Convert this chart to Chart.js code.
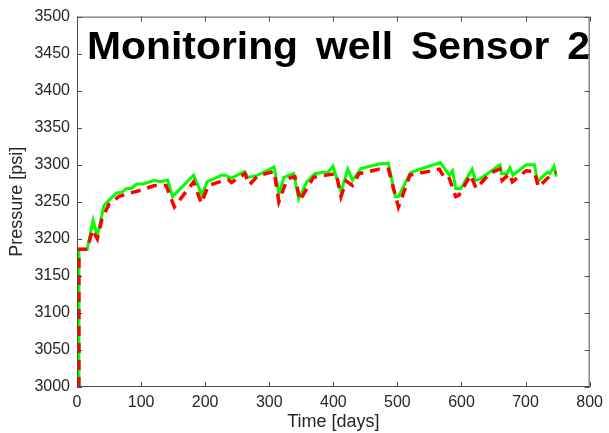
<!DOCTYPE html>
<html>
<head>
<meta charset="utf-8">
<title>Monitoring well Sensor 2</title>
<script src="https://cdn.jsdelivr.net/npm/chart.js@4.4.1/dist/chart.umd.min.js"></script>
<style>
  html, body { margin: 0; padding: 0; background: #fff; }
  #wrap { width: 609px; height: 433px; }
</style>
</head>
<body>
<div id="wrap"><canvas id="pressureChart" width="609" height="433"></canvas></div>
<script>
// Values (time in days, pressure in psi)
const chartTitle = 'Monitoring well Sensor 2';
const xTicks = [0, 100, 200, 300, 400, 500, 600, 700, 800];
const yTicks = [3000, 3050, 3100, 3150, 3200, 3250, 3300, 3350, 3400, 3450, 3500];

const greenDays = [3, 3, 16, 25, 31.7, 42, 52, 62, 70, 77.6, 85, 93, 103, 121, 129, 141.5, 149, 182, 195, 203,
  225.7, 231, 241, 261.6, 266.7, 282, 307.6, 315, 323, 338, 346, 358.6, 371, 384, 392, 399.5, 412, 422.5, 430,
  443, 471, 486, 496.6, 501.6, 519.6, 522, 567, 581, 586, 591, 599, 616.6, 621.8, 629.5, 660, 662.6, 671,
  675.4, 680.5, 700.9, 713.7, 718.8, 734, 738, 744.4, 748];
const greenPsi = [3000, 3186, 3186, 3225, 3203, 3245, 3254, 3262, 3263, 3268, 3268, 3274, 3274, 3279, 3277, 3279, 3257, 3286, 3259, 3277,
  3286, 3286, 3282, 3291, 3283, 3286, 3297, 3261, 3283, 3288, 3254, 3277, 3288, 3290, 3290, 3298, 3263, 3294, 3279,
  3295, 3301, 3302, 3257, 3257, 3288, 3290, 3303, 3286, 3292, 3268, 3268, 3294, 3279, 3281, 3300, 3288, 3288,
  3296, 3286, 3300, 3300, 3277, 3290, 3288, 3298, 3284];

const redDays = [3, 3, 16, 24, 31.7, 39, 49.5, 65, 80, 100.7, 121, 139, 152, 182, 194, 205, 225.7, 236, 241, 262,
  269, 282, 307.6, 315, 328, 340, 348, 369, 389, 404.6, 412, 420, 430, 440, 471, 486, 501.6, 519.6, 565.5, 573,
  580, 591, 596, 614, 623, 644.7, 660, 663.6, 675, 679.4, 700.9, 713.7, 720, 741.8, 748];
const redPsi = [3000, 3186, 3186, 3212, 3200, 3227, 3246, 3257, 3261, 3266, 3272, 3272, 3243, 3277, 3248, 3272, 3278, 3280, 3276, 3288,
  3273, 3285, 3291, 3250, 3281, 3284, 3252, 3283, 3286, 3288, 3257, 3278, 3272, 3288, 3294, 3294, 3243, 3286, 3294, 3283,
  3284, 3257, 3259, 3286, 3268, 3289, 3294, 3279, 3288, 3277, 3292, 3291, 3270, 3288, 3290];

const toPoints = (xs, ys) => xs.map((x, i) => ({ x: x, y: ys[i] }));

const axisColor = '#4d4d4d';
const labelColor = '#262626';
const fontFamily = '"Liberation Sans", Arial, Helvetica, sans-serif';

// MATLAB-style box with inward ticks on all four sides, plus the big title
const boxPlugin = {
  id: 'matlabBox',
  afterDraw(chart) {
    const { ctx, chartArea: a, scales } = chart;
    ctx.save();
    ctx.strokeStyle = axisColor;
    ctx.lineWidth = 1;
    ctx.strokeRect(a.left + 0.5, a.top + 0.5, a.right - a.left - 1, a.bottom - a.top - 1);
    const len = 5;
    ctx.beginPath();
    xTicks.forEach(v => {
      const px = Math.round(scales.x.getPixelForValue(v)) + 0.5;
      ctx.moveTo(px, a.bottom); ctx.lineTo(px, a.bottom - len);
      ctx.moveTo(px, a.top); ctx.lineTo(px, a.top + len);
    });
    yTicks.forEach(v => {
      const py = Math.round(scales.y.getPixelForValue(v)) + 0.5;
      ctx.moveTo(a.left, py); ctx.lineTo(a.left + len, py);
      ctx.moveTo(a.right, py); ctx.lineTo(a.right - len, py);
    });
    ctx.stroke();

    // title sits inside the axes, stretched to its width in the figure
    ctx.fillStyle = '#000';
    ctx.font = 'bold 38px ' + fontFamily;
    ctx.textBaseline = 'alphabetic';
    ctx.wordSpacing = '6px';
    const w = ctx.measureText(chartTitle).width;
    ctx.translate(a.left + 10, a.top + 42);
    ctx.scale(503 / w, 1);
    ctx.fillText(chartTitle, 0, 0);
    ctx.restore();
  }
};

const chart = new Chart(document.getElementById('pressureChart'), {
  type: 'line',
  data: {
    datasets: [
      {
        label: 'Observed',
        data: toPoints(redDays, redPsi),
        borderColor: '#ff0000',
        borderWidth: 3.5,
        borderDash: [10, 7],
        pointRadius: 0,
        tension: 0,
        fill: false,
        order: 0
      },
      {
        label: 'Simulated',
        data: toPoints(greenDays, greenPsi),
        borderColor: '#00ff00',
        borderWidth: 3,
        pointRadius: 0,
        tension: 0,
        fill: false,
        order: 1
      }
    ]
  },
  options: {
    responsive: false,
    animation: false,
    devicePixelRatio: 1,
    layout: { padding: { top: 13, right: 11, left: 0, bottom: 0 } },
    plugins: {
      legend: { display: false },
      tooltip: { enabled: false },
      title: { display: false }
    },
    scales: {
      x: {
        type: 'linear',
        min: 0,
        max: 800,
        afterFit: s => { s.height = 46; },
        afterBuildTicks: s => { s.ticks = xTicks.map(v => ({ value: v })); },
        grid: { display: false, drawTicks: false },
        border: { display: false },
        ticks: { color: labelColor, padding: 6, maxRotation: 0, callback: v => String(v),
                 font: { family: fontFamily, size: 16 } },
        title: { display: true, text: 'Time [days]', color: labelColor, padding: { top: 0, bottom: 0 },
                 font: { family: fontFamily, size: 18 } }
      },
      y: {
        type: 'linear',
        min: 3000,
        max: 3500,
        afterFit: s => { s.width = 77; },
        afterBuildTicks: s => { s.ticks = yTicks.map(v => ({ value: v })); },
        grid: { display: false, drawTicks: false },
        border: { display: false },
        ticks: { color: labelColor, padding: 7, callback: v => String(v),
                 font: { family: fontFamily, size: 16 } },
        title: { display: true, text: 'Pressure [psi]', color: labelColor, padding: { top: 6, bottom: 0 },
                 font: { family: fontFamily, size: 18 } }
      }
    }
  },
  plugins: [boxPlugin]
});
</script>
</body>
</html>
